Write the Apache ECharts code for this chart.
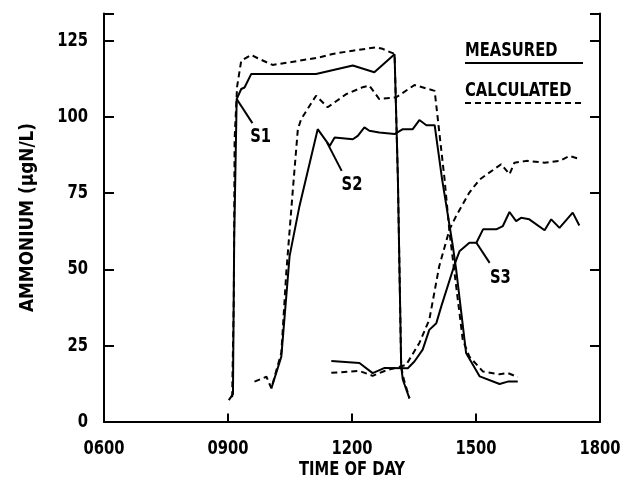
<!DOCTYPE html>
<html>
<head>
<meta charset="utf-8">
<script src="https://cdn.jsdelivr.net/npm/echarts@6/dist/echarts.min.js"></script>
<style>
  html, body { margin: 0; padding: 0; background: #fff; }
  #chart { width: 624px; height: 483px; }
</style>
</head>
<body>
<div id="chart"></div>
<script>
// time of day in hours, ammonium in ugN/L
const s1MeasuredT = [9.02, 9.12, 9.15, 9.21, 9.32, 9.40, 9.56, 11.13, 12.02, 12.54, 13.03, 13.11, 13.19, 13.23, 13.39];
const s1MeasuredV = [7, 9, 60, 105.9, 109.2, 109.7, 114.1, 114.1, 116.9, 114.7, 120.6, 80, 18.2, 13.7, 7.6];
const s1CalcT = [9.10, 9.14, 9.16, 9.22, 9.32, 9.56, 9.72, 10.08, 10.73, 11.21, 11.53, 12.02, 12.59, 12.74, 13.03, 13.11, 13.19, 13.25, 13.39];
const s1CalcV = [8, 40, 92.7, 110, 118.5, 120.4, 119.3, 117.1, 118.5, 119.6, 120.7, 121.8, 122.9, 122.4, 120.7, 80, 18, 14, 7.6];

const s2MeasuredT = [10.05, 10.29, 10.49, 10.73, 11.17, 11.46, 11.58, 12.02, 12.14, 12.30, 12.42, 12.66, 13.03, 13.23, 13.47, 13.63, 13.80, 14.00, 14.18, 14.44, 14.52, 14.76, 15.09, 15.57, 15.77, 16.01];
const s2MeasuredV = [10.9, 21.3, 54.3, 70.8, 96.0, 90.5, 93.3, 92.7, 93.8, 96.6, 95.5, 94.9, 94.4, 96.0, 96.0, 99.0, 97.3, 97.3, 79.5, 57.6, 49.9, 22.5, 14.8, 12.3, 13.1, 13.1];
const s2CalcT = [9.64, 9.93, 10.05, 10.29, 10.41, 10.57, 10.69, 10.77, 11.13, 11.41, 11.86, 12.26, 12.42, 12.66, 13.07, 13.51, 14.00, 14.24, 14.36, 14.68, 14.84, 15.17, 15.57, 15.77, 16.01];
const s2CalcV = [13.1, 14.7, 10.9, 22.6, 48.9, 76.3, 96.0, 99.3, 107.0, 103.2, 107.5, 109.8, 110.3, 105.9, 106.5, 110.5, 108.6, 79.5, 62.1, 26.8, 21.3, 16.4, 15.5, 15.9, 14.6];

const s3MeasuredT = [11.50, 12.18, 12.50, 12.79, 13.35, 13.51, 13.71, 13.87, 14.04, 14.16, 14.48, 14.60, 14.84, 15.01, 15.17, 15.49, 15.65, 15.81, 15.97, 16.09, 16.29, 16.66, 16.82, 17.02, 17.34, 17.50];
const s3MeasuredV = [19.9, 19.2, 15.9, 17.6, 17.5, 19.7, 23.6, 30.1, 32.3, 37.8, 51.5, 55.9, 58.7, 58.7, 63.1, 63.1, 64.2, 68.8, 65.8, 66.9, 66.4, 62.8, 66.4, 63.6, 68.6, 64.4];
const s3CalcT = [11.50, 12.18, 12.50, 12.79, 13.31, 13.63, 13.87, 14.11, 14.36, 14.52, 14.84, 15.09, 15.61, 15.81, 15.93, 16.22, 16.66, 17.02, 17.26, 17.46];
const s3CalcV = [16.0, 16.6, 15.0, 16.6, 18.6, 25.8, 33.4, 51.0, 63.1, 67.5, 75.2, 79.5, 84.5, 81.2, 85.0, 85.6, 85.0, 85.6, 87.2, 86.4];

// station labels: text, point on the curve, end of pointer, text centre
const stationNames = ["S1", "S2", "S3"];
const stationCurvePts = [[9.21, 105.9], [11.4, 91.5], [15.01, 58.7]];
const stationPointerEnds = [[9.59, 98.0], [11.75, 82.3], [15.33, 52.1]];
const stationTextPts = [[9.79, 93.4], [12.0, 77.9], [15.59, 47.3]];

const xTicks = [6, 9, 12, 15, 18];
const yTicks = [0, 25, 50, 75, 100, 125];
const xTitle = "TIME OF DAY";
const yTitle = "AMMONIUM (\u00b5gN/L)";
const legendNames = ["MEASURED", "CALCULATED"];

const FONT = "'DejaVu Sans Condensed', 'DejaVu Sans', sans-serif";
const SQUEEZE = 0.82; // the scanned lettering is narrower than any installed font

function pairs(t, v) {
  return t.map((x, i) => [x, v[i]]);
}

function lineSeries(name, t, v, dashed) {
  return {
    name: name,
    type: "line",
    data: pairs(t, v),
    showSymbol: false,
    symbol: "none",
    silent: true,
    animation: false,
    lineStyle: {
      color: "#000",
      width: 2,
      type: dashed ? [6, 4] : "solid",
    },
  };
}

var chart = echarts.init(document.getElementById("chart"), null, { renderer: "canvas" });

var axisBase = {
  type: "value",
  axisLine: { lineStyle: { color: "#000", width: 2 } },
  axisLabel: { show: false },
  splitLine: { show: false },
};

var option = {
  backgroundColor: "#fff",
  animation: false,
  grid: { left: 104, right: 24, top: 13.5, bottom: 61.5, containLabel: false },
  xAxis: [
    Object.assign({}, axisBase, {
      min: 6,
      max: 18,
      interval: 3,
      axisTick: { inside: true, length: 8, lineStyle: { color: "#000", width: 2 } },
    }),
    Object.assign({}, axisBase, {
      position: "top",
      min: 6,
      max: 18,
      axisTick: { show: false },
    }),
  ],
  yAxis: [
    Object.assign({}, axisBase, {
      min: 0,
      max: 134,
      interval: 25,
      axisTick: { inside: true, length: 10, lineStyle: { color: "#000", width: 2 } },
    }),
    Object.assign({}, axisBase, {
      position: "right",
      min: 0,
      max: 134,
      interval: 25,
      axisTick: { inside: true, length: 10, lineStyle: { color: "#000", width: 2 } },
    }),
  ],
  series: [
    lineSeries("S1 measured", s1MeasuredT, s1MeasuredV, false),
    lineSeries("S1 calculated", s1CalcT, s1CalcV, true),
    lineSeries("S2 measured", s2MeasuredT, s2MeasuredV, false),
    lineSeries("S2 calculated", s2CalcT, s2CalcV, true),
    lineSeries("S3 measured", s3MeasuredT, s3MeasuredV, false),
    lineSeries("S3 calculated", s3CalcT, s3CalcV, true),
  ],
};

chart.setOption(option);

// all lettering is drawn as graphics so it can be squeezed like the original
var graphics = [];

function label(text, x, y, align, rotation, squeeze) {
  return {
    type: "text",
    x: x,
    y: y,
    rotation: rotation || 0,
    scaleX: squeeze || SQUEEZE,
    style: {
      text: text,
      align: align || "center",
      verticalAlign: "middle",
      fontFamily: FONT,
      fontWeight: "bold",
      fontSize: 20,
      fill: "#000",
    },
  };
}

function toPx(pt) {
  return chart.convertToPixel({ gridIndex: 0 }, pt);
}

xTicks.forEach(function (h) {
  var p = toPx([h, 0]);
  graphics.push(label((h < 10 ? "0" + h : "" + h) + "00", p[0], p[1] + 27));
});
yTicks.forEach(function (v) {
  var p = toPx([6, v]);
  graphics.push(label(String(v), p[0] - 16, p[1], "right"));
});

var c0 = toPx([6, 0]);
var c1 = toPx([18, 134]);
graphics.push(label(xTitle, (c0[0] + c1[0]) / 2, c0[1] + 48));
graphics.push(label(yTitle, 28, (c0[1] + c1[1]) / 2, "center", Math.PI / 2, 0.94));

legendNames.forEach(function (name, i) {
  var y = 51 + i * 40;
  graphics.push(label(name, 465, y, "left"));
  graphics.push({
    type: "line",
    shape: { x1: 465, y1: y + 12, x2: 583, y2: y + 12 },
    style: { stroke: "#000", lineWidth: 2, lineDash: i === 0 ? null : [6, 4] },
  });
});

stationNames.forEach(function (name, i) {
  var p0 = toPx(stationCurvePts[i]);
  var p1 = toPx(stationPointerEnds[i]);
  var pt = toPx(stationTextPts[i]);
  graphics.push({
    type: "line",
    shape: { x1: p0[0], y1: p0[1], x2: p1[0], y2: p1[1] },
    style: { stroke: "#000", lineWidth: 2 },
  });
  graphics.push(label(name, pt[0], pt[1]));
});

chart.setOption({ graphic: graphics });
</script>
</body>
</html>
